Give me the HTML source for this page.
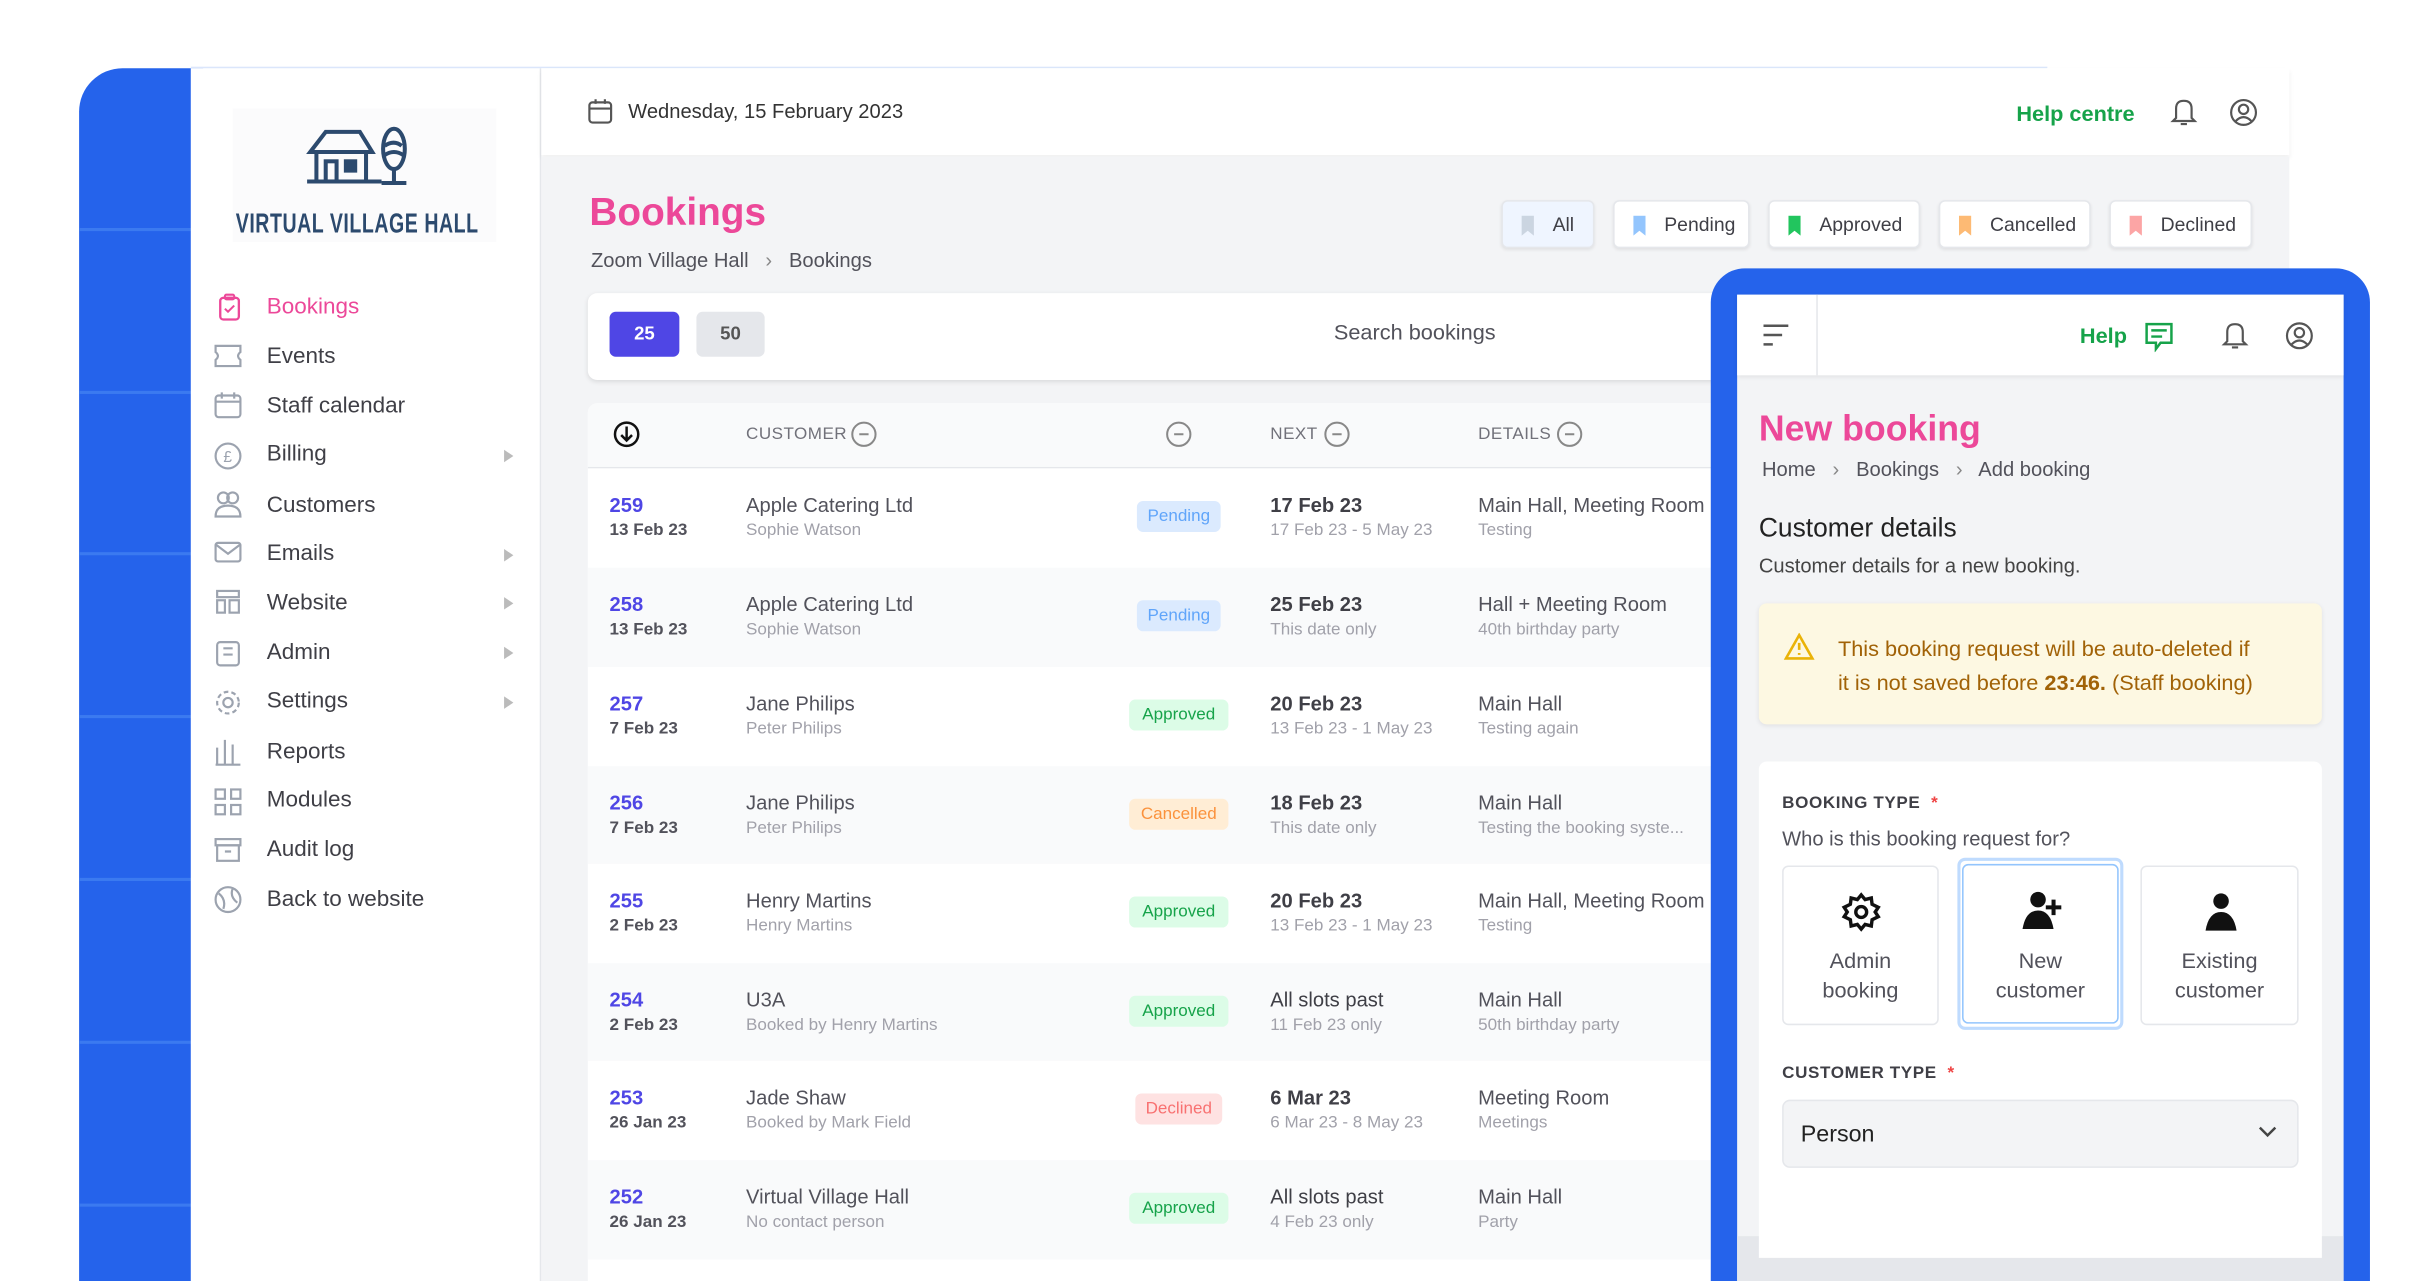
<!DOCTYPE html>
<html><head><meta charset="utf-8">
<style>
html,body{margin:0;padding:0;width:2432px;height:1280px;overflow:hidden;background:#fff}
#s{position:absolute;left:0;top:0;width:1568px;height:826px;transform:scale(1.55102);transform-origin:0 0;font-family:"Liberation Sans",sans-serif;overflow:hidden}
.a{position:absolute}
.t{position:absolute;line-height:1;white-space:nowrap}
.nav{font-size:14.5px;color:#3f3f46}
.h{font-size:11px;color:#71717a;letter-spacing:.3px}
.id{font-size:13px;font-weight:bold;color:#4f46e5}
.d{font-size:11px;font-weight:bold;color:#52525b}
.m{font-size:13px;color:#52525b}
.sb{font-size:11px;color:#a1a1aa}
.nb{font-size:13px;font-weight:bold;color:#3f3f46}
.badge{position:absolute;height:20px;border-radius:4px;font-size:11px;line-height:20px;text-align:center}
.fb{position:absolute;top:129px;height:31px;background:#fff;border:1px solid #e5e7eb;border-radius:4px;box-shadow:0 1px 2px rgba(0,0,0,.08);font-size:12.5px;color:#3f3f46;line-height:31px;box-sizing:border-box}
.bm{position:absolute;left:12px;top:9px;width:8px;height:13px;clip-path:polygon(0 0,100% 0,100% 100%,50% 75%,0 100%)}
.opt{position:absolute;top:558px;height:103px;background:#fff;border:1px solid #e5e7eb;border-radius:4px;box-sizing:border-box;text-align:center;font-size:14px;color:#52525b;line-height:19px}
.ar{position:absolute;left:325px;width:0;height:0;border-top:4px solid transparent;border-bottom:4px solid transparent;border-left:6px solid #bbb}
</style></head><body><div id="s">

<div class="a" style="left:51px;top:44px;width:80px;height:790px;background:#2563eb;border-top-left-radius:28px"></div>
<div class="a" style="left:51px;top:147px;width:72px;height:2px;background:#3b7af0"></div>
<div class="a" style="left:51px;top:252px;width:72px;height:2px;background:#3b7af0"></div>
<div class="a" style="left:51px;top:356px;width:72px;height:2px;background:#3b7af0"></div>
<div class="a" style="left:51px;top:461px;width:72px;height:2px;background:#3b7af0"></div>
<div class="a" style="left:51px;top:566px;width:72px;height:2px;background:#3b7af0"></div>
<div class="a" style="left:51px;top:671px;width:72px;height:2px;background:#3b7af0"></div>
<div class="a" style="left:51px;top:776px;width:72px;height:2px;background:#3b7af0"></div>

<div class="a" style="left:123px;top:44px;width:225px;height:790px;background:#fff;border-right:1px solid #e5e7eb"></div>
<div class="a" style="left:123px;top:43px;width:1197px;height:1px;background:#dbe6fb"></div>
<div class="a" style="left:150px;top:70px;width:170px;height:86px;background:#fbfbfc"></div>
<svg class="a" style="left:196px;top:78px" width="72" height="44" viewBox="0 0 72 44">
<g fill="none" stroke="#2c4a6e" stroke-width="2.6">
<path d="M4 20 L14 7 L36 7 L44 20 Z"/><path d="M8 20 V39 M40 20 V39"/><path d="M2 39 H50"/>
<rect x="14" y="26" width="7" height="13"/><rect x="27" y="26" width="6" height="6" fill="#2c4a6e"/>
<ellipse cx="58" cy="18" rx="7" ry="13"/><path d="M58 31 V40 M50 40 H66"/><path d="M52 16 Q58 12 63 16 M52 22 Q58 18 64 22"/></g></svg>
<div class="t" style="left:152px;top:135px;font-size:18px;font-weight:bold;color:#2c4a6e;transform:scaleX(.7);transform-origin:0 0;letter-spacing:.5px">VIRTUAL VILLAGE HALL</div>

<svg class="a" style="left:139px;top:189px" width="18" height="18" viewBox="0 0 18 18"><rect x="3" y="3" width="12" height="14" rx="2" fill="none" stroke="#ec4899" stroke-width="1.5"/><rect x="6" y="1" width="6" height="3" rx="1" fill="none" stroke="#ec4899" stroke-width="1.3"/><path d="M6 10 L8 12 L12 8" fill="none" stroke="#ec4899" stroke-width="1.3"/></svg>
<div class="t nav" style="left:172px;top:191px;color:#ec4899">Bookings</div>
<div class="t nav" style="left:172px;top:223px">Events</div>
<div class="t nav" style="left:172px;top:255px">Staff calendar</div>
<div class="t nav" style="left:172px;top:286px">Billing</div>
<div class="t nav" style="left:172px;top:319px">Customers</div>
<div class="t nav" style="left:172px;top:350px">Emails</div>
<div class="t nav" style="left:172px;top:382px">Website</div>
<div class="t nav" style="left:172px;top:414px">Admin</div>
<div class="t nav" style="left:172px;top:445px">Settings</div>
<div class="t nav" style="left:172px;top:478px">Reports</div>
<div class="t nav" style="left:172px;top:509px">Modules</div>
<div class="t nav" style="left:172px;top:541px">Audit log</div>
<div class="t nav" style="left:172px;top:573px">Back to website</div>
<svg class="a" style="left:138px;top:220px" width="20" height="375" viewBox="0 0 20 375" fill="none" stroke="#9ca3af" stroke-width="1.4">
<path d="M1 3 H17 V7 Q14 9.5 17 12 V16 H1 V12 Q4 9.5 1 7 Z"/>
<rect x="1" y="35" width="16" height="14" rx="2"/><path d="M1 39 H17 M5 33 V37 M13 33 V37"/>
<circle cx="9" cy="74" r="8"/><text x="6" y="78" font-size="10" fill="#9ca3af" stroke="none" font-family="Liberation Sans">£</text>
<circle cx="6" cy="101" r="3.5"/><circle cx="12" cy="101" r="3.5"/><path d="M1 113 Q1 106 9 106 Q17 106 17 113 Z"/>
<rect x="1" y="130" width="16" height="12" rx="1.5"/><path d="M1 131 L9 137 L17 131"/>
<rect x="2" y="161" width="14" height="4"/><rect x="2" y="167" width="5" height="8"/><rect x="10" y="167" width="6" height="8"/>
<rect x="2" y="194" width="14" height="15" rx="2"/><path d="M6 198 H12 M6 202 H12"/>
<circle cx="9" cy="233" r="3"/><circle cx="9" cy="233" r="7" stroke-dasharray="3 2"/>
<path d="M2 273 V262 M7 273 V257 M12 273 V260 M1 273 H17"/>
<rect x="1" y="289" width="6" height="6"/><rect x="11" y="289" width="6" height="6"/><rect x="1" y="299" width="6" height="6"/><rect x="11" y="299" width="6" height="6"/>
<rect x="1" y="321" width="16" height="4"/><rect x="2" y="325" width="14" height="10"/><path d="M7 329 H11"/>
<circle cx="9" cy="360" r="8"/><path d="M3 356 Q8 360 6 366 M12 353 Q10 358 15 362"/>
</svg>
<div class="ar" style="top:290px"></div><div class="ar" style="top:354px"></div><div class="ar" style="top:385px"></div><div class="ar" style="top:417px"></div><div class="ar" style="top:449px"></div>

<div class="a" style="left:349px;top:44px;width:1127px;height:56px;background:#fff;box-shadow:0 2px 3px rgba(0,0,0,.07)"></div>
<svg class="a" style="left:379px;top:63px" width="16" height="17" viewBox="0 0 16 17" fill="none" stroke="#555" stroke-width="1.4"><rect x="1" y="3" width="14" height="13" rx="2"/><path d="M1 7 H15 M5 1 V4 M11 1 V4"/></svg>
<div class="t" style="left:405px;top:65px;font-size:13px;color:#333">Wednesday, 15 February 2023</div>
<div class="t" style="left:1300px;top:66px;font-size:14px;font-weight:bold;color:#16a34a">Help centre</div>
<svg class="a" style="left:1399px;top:62px" width="18" height="20" viewBox="0 0 18 20" fill="none" stroke="#555" stroke-width="1.4"><path d="M4 14 V8 Q4 3 9 3 Q14 3 14 8 V14 L16 16 H2 Z"/><path d="M7 18 H11"/></svg>
<svg class="a" style="left:1437px;top:63px" width="19" height="19" viewBox="0 0 19 19" fill="none" stroke="#555" stroke-width="1.4"><circle cx="9.5" cy="9.5" r="8"/><circle cx="9.5" cy="7.5" r="3"/><path d="M4.5 15 Q9.5 10 14.5 15"/></svg>

<div class="a" style="left:349px;top:101px;width:1127px;height:730px;background:#f3f4f6"></div>
<div class="t" style="left:380px;top:125px;font-size:25px;font-weight:bold;color:#ec4899">Bookings</div>
<div class="t" style="left:381px;top:161px;font-size:13px;color:#52525b">Zoom Village Hall &nbsp;&nbsp;<span style="color:#888">›</span>&nbsp;&nbsp; Bookings</div>

<div class="fb" style="left:968px;width:60px;background:#eff5ff"><div class="bm" style="background:#cbd5e1"></div><span style="position:absolute;left:32px">All</span></div>
<div class="fb" style="left:1040px;width:88px"><div class="bm" style="background:#93c5fd"></div><span style="position:absolute;left:32px">Pending</span></div>
<div class="fb" style="left:1140px;width:98px"><div class="bm" style="background:#22c55e"></div><span style="position:absolute;left:32px">Approved</span></div>
<div class="fb" style="left:1250px;width:98px"><div class="bm" style="background:#fdba74"></div><span style="position:absolute;left:32px">Cancelled</span></div>
<div class="fb" style="left:1360px;width:92px"><div class="bm" style="background:#fca5a5"></div><span style="position:absolute;left:32px">Declined</span></div>

<div class="a" style="left:379px;top:189px;width:760px;height:56px;background:#fff;border-radius:6px;box-shadow:0 1px 3px rgba(0,0,0,.1)"></div>
<div class="a" style="left:393px;top:201px;width:45px;height:29px;background:#4f46e5;border-radius:4px;color:#fff;font-size:12px;font-weight:bold;text-align:center;line-height:29px">25</div>
<div class="a" style="left:449px;top:201px;width:44px;height:29px;background:#e5e7eb;border-radius:4px;color:#555;font-size:12px;font-weight:bold;text-align:center;line-height:29px">50</div>
<div class="t" style="left:860px;top:207px;font-size:14px;color:#52525b">Search bookings</div>

<div class="a" style="left:379px;top:260px;width:760px;height:570px;background:#fff;border-radius:6px 6px 0 0"></div>
<div class="a" style="left:379px;top:260px;width:760px;height:41px;background:#f9fafb;border-bottom:1px solid #e5e7eb;border-radius:6px 6px 0 0"></div>
<svg class="a" style="left:395px;top:271px" width="18" height="18" viewBox="0 0 18 18" fill="none" stroke="#111" stroke-width="1.6"><circle cx="9" cy="9" r="7.5"/><path d="M9 4 V13 M5.5 9.5 L9 13 L12.5 9.5"/></svg>
<div class="t h" style="left:481px;top:275px">CUSTOMER</div>
<div class="t h" style="left:819px;top:275px">NEXT</div>
<div class="t h" style="left:953px;top:275px">DETAILS</div>
<svg class="a" style="left:548px;top:271px" width="480" height="18" viewBox="0 0 480 18" fill="none" stroke="#888" stroke-width="1.3">
<circle cx="9" cy="9" r="7.5"/><path d="M6 9 H12"/>
<circle cx="212" cy="9" r="7.5"/><path d="M209 9 H215"/>
<circle cx="314" cy="9" r="7.5"/><path d="M311 9 H317"/>
<circle cx="464" cy="9" r="7.5"/><path d="M461 9 H467"/>
</svg>

<div class="a" style="left:379px;top:366px;width:760px;height:64px;background:#f9fafb"></div>
<div class="a" style="left:379px;top:494px;width:760px;height:63px;background:#f9fafb"></div>
<div class="a" style="left:379px;top:621px;width:760px;height:63px;background:#f9fafb"></div>
<div class="a" style="left:379px;top:748px;width:760px;height:64px;background:#f9fafb"></div>

<div class="t id" style="left:393px;top:319px">259</div><div class="t d" style="left:393px;top:337px">13 Feb 23</div>
<div class="t m" style="left:481px;top:319px">Apple Catering Ltd</div><div class="t sb" style="left:481px;top:337px">Sophie Watson</div>
<div class="badge" style="left:733px;top:323px;width:54px;background:#dbeafe;color:#60a5fa">Pending</div>
<div class="t nb" style="left:819px;top:319px">17 Feb 23</div><div class="t sb" style="left:819px;top:337px">17 Feb 23 - 5 May 23</div>
<div class="t m" style="left:953px;top:319px">Main Hall, Meeting Room</div><div class="t sb" style="left:953px;top:337px">Testing</div>

<div class="t id" style="left:393px;top:383px">258</div><div class="t d" style="left:393px;top:401px">13 Feb 23</div>
<div class="t m" style="left:481px;top:383px">Apple Catering Ltd</div><div class="t sb" style="left:481px;top:401px">Sophie Watson</div>
<div class="badge" style="left:733px;top:387px;width:54px;background:#dbeafe;color:#60a5fa">Pending</div>
<div class="t nb" style="left:819px;top:383px">25 Feb 23</div><div class="t sb" style="left:819px;top:401px">This date only</div>
<div class="t m" style="left:953px;top:383px">Hall + Meeting Room</div><div class="t sb" style="left:953px;top:401px">40th birthday party</div>

<div class="t id" style="left:393px;top:447px">257</div><div class="t d" style="left:393px;top:465px">7 Feb 23</div>
<div class="t m" style="left:481px;top:447px">Jane Philips</div><div class="t sb" style="left:481px;top:465px">Peter Philips</div>
<div class="badge" style="left:728px;top:451px;width:64px;background:#dcfce7;color:#16a34a">Approved</div>
<div class="t nb" style="left:819px;top:447px">20 Feb 23</div><div class="t sb" style="left:819px;top:465px">13 Feb 23 - 1 May 23</div>
<div class="t m" style="left:953px;top:447px">Main Hall</div><div class="t sb" style="left:953px;top:465px">Testing again</div>

<div class="t id" style="left:393px;top:511px">256</div><div class="t d" style="left:393px;top:529px">7 Feb 23</div>
<div class="t m" style="left:481px;top:511px">Jane Philips</div><div class="t sb" style="left:481px;top:529px">Peter Philips</div>
<div class="badge" style="left:728px;top:515px;width:64px;background:#ffedd5;color:#fb923c">Cancelled</div>
<div class="t nb" style="left:819px;top:511px">18 Feb 23</div><div class="t sb" style="left:819px;top:529px">This date only</div>
<div class="t m" style="left:953px;top:511px">Main Hall</div><div class="t sb" style="left:953px;top:529px">Testing the booking syste...</div>

<div class="t id" style="left:393px;top:574px">255</div><div class="t d" style="left:393px;top:592px">2 Feb 23</div>
<div class="t m" style="left:481px;top:574px">Henry Martins</div><div class="t sb" style="left:481px;top:592px">Henry Martins</div>
<div class="badge" style="left:728px;top:578px;width:64px;background:#dcfce7;color:#16a34a">Approved</div>
<div class="t nb" style="left:819px;top:574px">20 Feb 23</div><div class="t sb" style="left:819px;top:592px">13 Feb 23 - 1 May 23</div>
<div class="t m" style="left:953px;top:574px">Main Hall, Meeting Room</div><div class="t sb" style="left:953px;top:592px">Testing</div>

<div class="t id" style="left:393px;top:638px">254</div><div class="t d" style="left:393px;top:656px">2 Feb 23</div>
<div class="t m" style="left:481px;top:638px">U3A</div><div class="t sb" style="left:481px;top:656px">Booked by Henry Martins</div>
<div class="badge" style="left:728px;top:642px;width:64px;background:#dcfce7;color:#16a34a">Approved</div>
<div class="t nb" style="left:819px;top:638px;font-weight:normal">All slots past</div><div class="t sb" style="left:819px;top:656px">11 Feb 23 only</div>
<div class="t m" style="left:953px;top:638px">Main Hall</div><div class="t sb" style="left:953px;top:656px">50th birthday party</div>

<div class="t id" style="left:393px;top:701px">253</div><div class="t d" style="left:393px;top:719px">26 Jan 23</div>
<div class="t m" style="left:481px;top:701px">Jade Shaw</div><div class="t sb" style="left:481px;top:719px">Booked by Mark Field</div>
<div class="badge" style="left:732px;top:705px;width:56px;background:#fee2e2;color:#f87171">Declined</div>
<div class="t nb" style="left:819px;top:701px">6 Mar 23</div><div class="t sb" style="left:819px;top:719px">6 Mar 23 - 8 May 23</div>
<div class="t m" style="left:953px;top:701px">Meeting Room</div><div class="t sb" style="left:953px;top:719px">Meetings</div>

<div class="t id" style="left:393px;top:765px">252</div><div class="t d" style="left:393px;top:783px">26 Jan 23</div>
<div class="t m" style="left:481px;top:765px">Virtual Village Hall</div><div class="t sb" style="left:481px;top:783px">No contact person</div>
<div class="badge" style="left:728px;top:769px;width:64px;background:#dcfce7;color:#16a34a">Approved</div>
<div class="t nb" style="left:819px;top:765px;font-weight:normal">All slots past</div><div class="t sb" style="left:819px;top:783px">4 Feb 23 only</div>
<div class="t m" style="left:953px;top:765px">Main Hall</div><div class="t sb" style="left:953px;top:783px">Party</div>

<div class="a" style="left:1103px;top:173px;width:425px;height:660px;background:#2563eb;border-radius:22px 22px 0 0"></div>
<div class="a" style="left:1120px;top:190px;width:391px;height:640px;background:#f3f4f6"></div>
<div class="a" style="left:1120px;top:797px;width:391px;height:40px;background:#e5e7eb"></div>
<div class="a" style="left:1120px;top:190px;width:391px;height:52px;background:#fff;box-shadow:0 1px 3px rgba(0,0,0,.08)"></div>
<div class="a" style="left:1171px;top:190px;width:1px;height:52px;background:#e5e7eb"></div>
<svg class="a" style="left:1136px;top:208px" width="18" height="16" viewBox="0 0 18 16" stroke="#555" stroke-width="1.6"><path d="M1 2 H17 M1 8 H13 M1 14 H7"/></svg>
<div class="t" style="left:1341px;top:209px;font-size:14px;font-weight:bold;color:#16a34a">Help</div>
<svg class="a" style="left:1382px;top:207px" width="20" height="20" viewBox="0 0 20 20" fill="none" stroke="#16a34a" stroke-width="1.6"><path d="M2 2 H18 V14 H11 L8 18 V14 H2 Z"/><path d="M5 6 H15 M5 10 H12"/></svg>
<svg class="a" style="left:1432px;top:206px" width="18" height="20" viewBox="0 0 18 20" fill="none" stroke="#555" stroke-width="1.4"><path d="M4 14 V8 Q4 3 9 3 Q14 3 14 8 V14 L16 16 H2 Z"/><path d="M7 18 H11"/></svg>
<svg class="a" style="left:1473px;top:207px" width="19" height="19" viewBox="0 0 19 19" fill="none" stroke="#555" stroke-width="1.4"><circle cx="9.5" cy="9.5" r="8"/><circle cx="9.5" cy="7.5" r="3"/><path d="M4.5 15 Q9.5 10 14.5 15"/></svg>

<div class="t" style="left:1134px;top:265px;font-size:23px;font-weight:bold;color:#ec4899">New booking</div>
<div class="t" style="left:1136px;top:296px;font-size:13px;color:#52525b">Home &nbsp;&nbsp;<span style="color:#888">›</span>&nbsp;&nbsp; Bookings &nbsp;&nbsp;<span style="color:#888">›</span>&nbsp;&nbsp; Add booking</div>
<div class="t" style="left:1134px;top:332px;font-size:17px;color:#222">Customer details</div>
<div class="t" style="left:1134px;top:358px;font-size:13px;color:#444">Customer details for a new booking.</div>

<div class="a" style="left:1134px;top:389px;width:363px;height:78px;background:#fdf8e2;border-radius:5px;box-shadow:0 1px 3px rgba(0,0,0,.08)"></div>
<svg class="a" style="left:1150px;top:408px" width="20" height="18" viewBox="0 0 20 18" fill="none" stroke="#eab308" stroke-width="1.7"><path d="M10 1.5 L18.5 16.5 H1.5 Z"/><path d="M10 6.5 V11 M10 13 V14.2"/></svg>
<div class="t" style="left:1185px;top:411px;font-size:14px;color:#a16207">This booking request will be auto-deleted if</div>
<div class="t" style="left:1185px;top:433px;font-size:14px;color:#a16207">it is not saved before <b>23:46.</b> (Staff booking)</div>

<div class="a" style="left:1134px;top:491px;width:363px;height:320px;background:#fff;border-radius:5px 5px 0 0"></div>
<div class="t" style="left:1149px;top:513px;font-size:11px;font-weight:bold;color:#3f3f46;letter-spacing:.4px">BOOKING TYPE &nbsp;<span style="color:#ef4444">*</span></div>
<div class="t" style="left:1149px;top:534px;font-size:13px;color:#52525b">Who is this booking request for?</div>
<div class="opt" style="left:1149px;width:101px"><svg style="position:absolute;left:37px;top:16px" width="26" height="26" viewBox="0 0 26 26" fill="none" stroke="#111" stroke-width="2.2"><circle cx="13" cy="13" r="3.5"/><path d="M13 2 L15.5 5 L19.5 4 L20 8 L24 10 L22 13 L24 16 L20 18 L19.5 22 L15.5 21 L13 24 L10.5 21 L6.5 22 L6 18 L2 16 L4 13 L2 10 L6 8 L6.5 4 L10.5 5 Z"/></svg><div style="position:absolute;left:0;right:0;top:51px">Admin<br>booking</div></div>
<div class="a" style="left:1262px;top:553px;width:107px;height:111px;border:2px solid #bfdbfe;border-radius:5px;box-sizing:border-box"></div>
<div class="opt" style="left:1265px;top:557px;width:101px;border-color:#93c5fd"><svg style="position:absolute;left:37px;top:16px" width="28" height="26" viewBox="0 0 28 26" fill="#111"><circle cx="11" cy="6" r="5"/><path d="M1 25 Q3 13 11 13 Q19 13 21 25 Z"/><path d="M21 6 V16 M16 11 H26" stroke="#111" stroke-width="2.6"/></svg><div style="position:absolute;left:0;right:0;top:52px">New<br>customer</div></div>
<div class="opt" style="left:1380px;width:102px"><svg style="position:absolute;left:39px;top:16px" width="24" height="26" viewBox="0 0 24 26" fill="#111"><circle cx="12" cy="6" r="5"/><path d="M2 25 Q4 13 12 13 Q20 13 22 25 Z"/></svg><div style="position:absolute;left:0;right:0;top:51px">Existing<br>customer</div></div>

<div class="t" style="left:1149px;top:687px;font-size:11px;font-weight:bold;color:#3f3f46;letter-spacing:.4px">CUSTOMER TYPE &nbsp;<span style="color:#ef4444">*</span></div>
<div class="a" style="left:1149px;top:709px;width:333px;height:44px;background:#f3f4f6;border:1px solid #e5e7eb;border-radius:5px;box-sizing:border-box"></div>
<div class="t" style="left:1161px;top:724px;font-size:15px;color:#222">Person</div>
<svg class="a" style="left:1456px;top:726px" width="12" height="8" viewBox="0 0 12 8" fill="none" stroke="#444" stroke-width="1.6"><path d="M1 1 L6 6 L11 1"/></svg>

</div></body></html>
